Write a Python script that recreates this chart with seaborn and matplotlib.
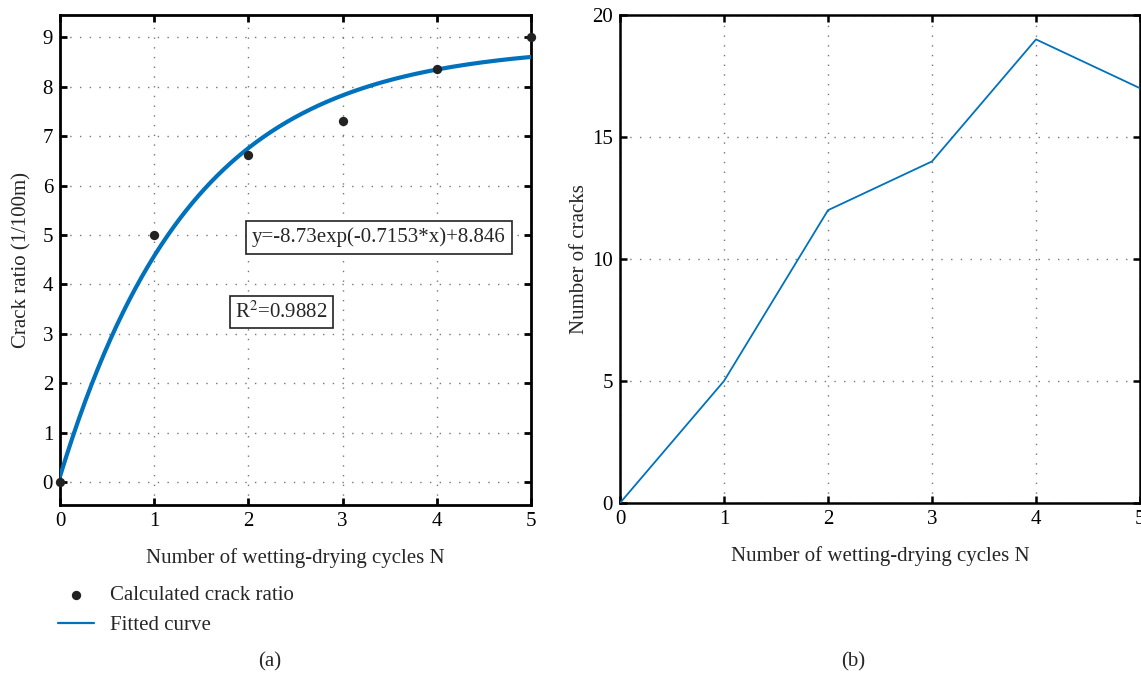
import numpy as np
import pandas as pd
import matplotlib
matplotlib.use("Agg")
import matplotlib.pyplot as plt
import seaborn as sns

# ---- data ----
cycles = [0, 1, 2, 3, 4, 5]
crack_ratio = [0.0, 5.0, 6.62, 7.3, 8.35, 9.0]
num_cracks = [0, 5, 12, 14, 19, 17]
fit_a, fit_b, fit_c = -8.73, -0.7153, 8.846   # y = a*exp(b*x)+c (from the chart text)
x_ticks = [0, 1, 2, 3, 4, 5]
y_ticks_a = [0, 1, 2, 3, 4, 5, 6, 7, 8, 9]
y_ticks_b = [0, 5, 10, 15, 20]

sns.set_style("ticks")
plt.rcParams['font.family'] = ['Liberation Serif', 'DejaVu Serif']
plt.rcParams['mathtext.fontset'] = 'stix'

W, H = 1141, 675
fig = plt.figure(figsize=(W / 100, H / 100), dpi=100)

def px_axes(l, t, r, b):
    return fig.add_axes([l / W, (H - b) / H, (r - l) / W, (b - t) / H])

axa = px_axes(60, 15, 531, 505)
axb = px_axes(620, 15, 1140, 503)

blue = "#0072BD"
fs = 15

def style(ax, lw):
    ax.grid(True, linestyle=(0, (1, 6)), color="#777777", linewidth=1.0)
    ax.tick_params(direction="in", length=5, width=lw, top=True, right=True,
                   labelsize=fs, colors="black", pad=5)
    for s in ax.spines.values():
        s.set_linewidth(lw)
        s.set_color("black")
    ax.set_axisbelow(True)

# ---- panel (a) ----
xf = np.linspace(0, 5, 300)
fit_df = pd.DataFrame({"x": xf, "y": fit_a * np.exp(fit_b * xf) + fit_c})
pts_df = pd.DataFrame({"x": cycles, "y": crack_ratio})
sns.lineplot(data=fit_df, x="x", y="y", ax=axa, color=blue, linewidth=3,
             label="Fitted curve", zorder=3)
sns.scatterplot(data=pts_df, x="x", y="y", ax=axa, color="#222222", s=45,
                edgecolor="#222222", linewidth=0, label="Calculated crack ratio",
                zorder=4, clip_on=False)
axa.set_xlim(0, 5)
axa.set_ylim(-0.46, 9.45)
axa.set_xticks(x_ticks)
axa.set_yticks(y_ticks_a)
style(axa, 2.0)
axa.set_xlabel("Number of wetting-drying cycles N", fontsize=fs, labelpad=12)
axa.set_ylabel("Crack ratio (1/100m)", fontsize=fs, labelpad=8)
axa.text(2.04, 4.95, "y=-8.73exp(-0.7153*x)+8.846", fontsize=fs, ha="left", va="center",
         bbox=dict(boxstyle="square,pad=0.3", facecolor="white", edgecolor="#222222", linewidth=1.2),
         zorder=5)
axa.text(1.86, 3.45, r"R$^2$=0.9882", fontsize=fs, ha="left", va="center",
         bbox=dict(boxstyle="square,pad=0.25", facecolor="white", edgecolor="#222222", linewidth=1.2),
         zorder=5)
h, l = axa.get_legend_handles_labels()
order = [l.index("Calculated crack ratio"), l.index("Fitted curve")]
axa.legend([h[i] for i in order], [l[i] for i in order], loc="upper left",
           bbox_to_anchor=(-0.005, -0.165), frameon=False, fontsize=fs,
           borderaxespad=0, borderpad=0,
           handlelength=1.75, handletextpad=0.75, labelspacing=0.5)
leg = axa.get_legend()
for lh in leg.legend_handles:
    if hasattr(lh, "set_linewidth") and not hasattr(lh, "get_offsets"):
        lh.set_linewidth(1.6)

# ---- panel (b) ----
cr_df = pd.DataFrame({"x": cycles, "y": num_cracks})
sns.lineplot(data=cr_df, x="x", y="y", ax=axb, color=blue, linewidth=1.3, zorder=3)
axb.set_xlim(0, 5)
axb.set_ylim(0, 20)
axb.set_xticks(x_ticks)
axb.set_yticks(y_ticks_b)
style(axb, 1.8)
axb.set_xlabel("Number of wetting-drying cycles N", fontsize=fs, labelpad=12)
axb.set_ylabel("Number of cracks", fontsize=fs, labelpad=2)

fig.text(270 / W, 1 - 662 / H, "(a)", fontsize=fs, ha="center", va="center")
fig.text(853 / W, 1 - 662 / H, "(b)", fontsize=fs, ha="center", va="center")

fig.savefig("out.png", dpi=100, facecolor="white")
